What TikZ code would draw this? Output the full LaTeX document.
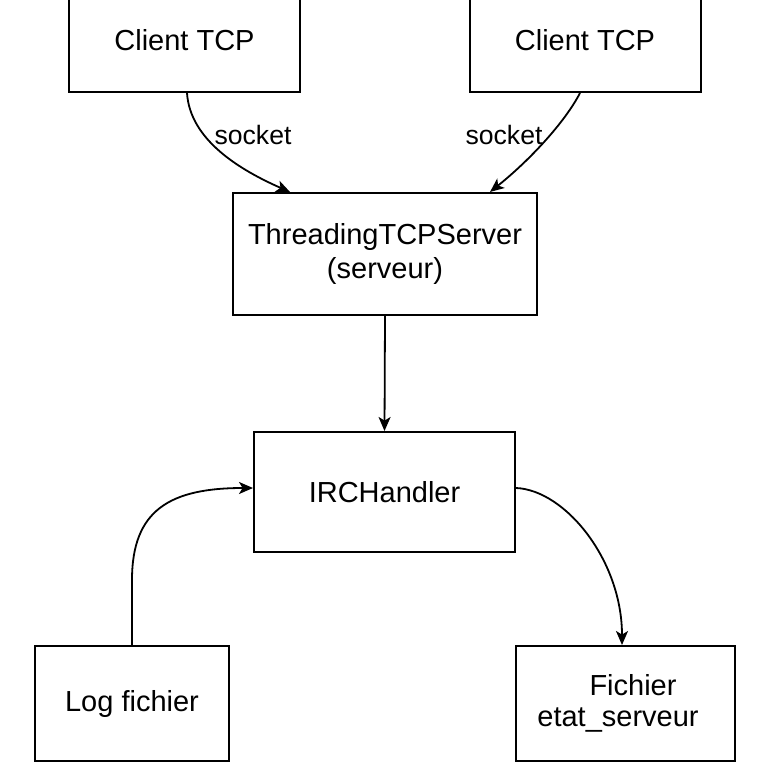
\documentclass[tikz,border=0pt]{standalone}
\usepackage{fontspec}
\setmainfont{Liberation Sans}
\usetikzlibrary{arrows.meta}

\tikzset{
  bloc/.style={draw, line width=1pt, inner sep=0pt, align=center,
    font=\fontsize{14.5}{17.4}\selectfont},
  lien/.style={line width=0.9pt, -{Stealth[length=7pt, width=6pt, inset=1.8pt]}},
  etiq/.style={inner sep=0pt, font=\fontsize{13.3}{16}\selectfont},
}

\begin{document}
\begin{tikzpicture}[x=0.5pt, y=-0.5pt]
  \useasboundingbox (0,0) rectangle (770,770);
  \clip (0,0) rectangle (770,770);
  % the two clients, their boxes run past the top edge
  \node[bloc, minimum width=115.5pt, minimum height=52pt] (clientA) at (184.5,40) {Client TCP};
  \node[bloc, minimum width=115.5pt, minimum height=52pt] (clientB) at (585,40) {Client TCP};
  % server and handler, one under the other
  \node[bloc, minimum width=152pt, minimum height=61pt] (serveur) at (385,254)
    {ThreadingTCPServer\\(serveur)};
  \node[bloc, minimum width=130.5pt, minimum height=60pt] (handler) at (384.5,492) {IRCHandler};
  % the two files at the bottom
  \node[bloc, minimum width=97pt, minimum height=57.5pt] (logf) at (132,703.5) {Log fichier};
  \node[bloc, minimum width=109.5pt, minimum height=57.5pt] (etat) at (625.5,703.5)
    {\hspace*{7.5pt}Fichier\\[-2pt]etat\_serveur\hspace*{7.5pt}};
  % socket links, curved into the server's top
  \draw[lien] ([xshift=1.25pt]clientA.south) .. controls (190,140) and (240,170)
    .. ([xshift=-47.5pt]serveur.north);
  \draw[lien] ([xshift=-2.5pt]clientB.south) .. controls (565,122) and (530,160)
    .. ([xshift=52.5pt]serveur.north);
  \node[etiq] (sockA) at (253,135) {socket};
  \node[etiq] (sockB) at (504,135) {socket};
  % server hands over to the handler
  \draw[lien] (serveur.south) -- (handler.north);
  % log goes up then bends into the handler's left side
  \draw[lien] (logf.north) -- (132,580) .. controls (132,510) and (170,488)
    .. ([yshift=2pt]handler.west);
  % handler writes the state file
  \draw[lien] ([yshift=2pt]handler.east) .. controls (565,490) and (622,560)
    .. ([xshift=-1.75pt]etat.north);
\end{tikzpicture}
\end{document}
